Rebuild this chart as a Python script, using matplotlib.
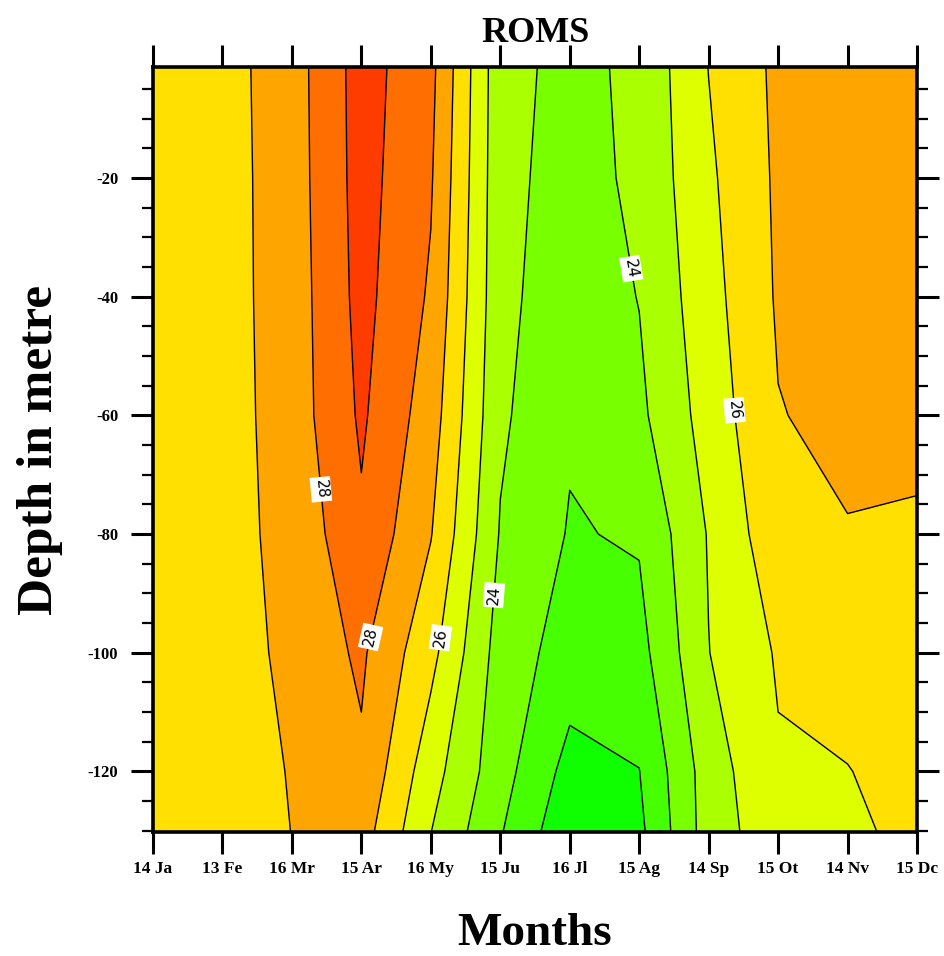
import numpy as np
import matplotlib
matplotlib.use("Agg")
import matplotlib.pyplot as plt
from matplotlib.colors import ListedColormap, BoundaryNorm
from matplotlib.ticker import MultipleLocator

plt.rcParams["font.family"] = ["Liberation Serif", "DejaVu Serif"]
plt.rcParams["font.weight"] = "bold"
plt.rcParams["axes.unicode_minus"] = False

# months (x) and depth levels (y)
months = ["14 Ja", "13 Fe", "16 Mr", "15 Ar", "16 My", "15 Ju",
          "16 Jl", "15 Ag", "14 Sp", "15 Ot", "14 Nv", "15 Dc"]
depths = [-1.3, -20, -40, -60, -80, -100, -120, -130]

# temperature (deg C), one list per depth level
t_1 = [26.50, 26.62, 27.55, 29.42, 28.28, 24.32, 23.72, 24.21, 26.02, 27.21, 27.50, 27.55]
t_20 = [26.50, 26.60, 27.52, 29.39, 28.10, 24.30, 23.60, 24.20, 25.83, 27.16, 27.45, 27.50]
t_40 = [26.50, 26.62, 27.47, 29.32, 27.87, 24.28, 23.39, 24.03, 25.64, 27.11, 27.40, 27.45]
t_60 = [26.50, 26.57, 27.47, 29.15, 27.50, 24.17, 23.12, 23.79, 25.42, 26.96, 27.24, 27.25]
t_80 = [26.50, 26.73, 27.23, 28.84, 27.05, 23.93, 22.93, 23.10, 25.07, 26.67, 26.95, 26.88]
t_100 = [26.50, 26.30, 27.35, 28.15, 26.30, 23.57, 22.55, 22.65, 24.98, 26.10, 26.45, 26.62]
t_120 = [26.45, 26.11, 27.10, 27.85, 25.40, 23.40, 21.65, 21.98, 24.50, 25.90, 25.97, 26.37]
t_130 = [26.40, 26.10, 27.02, 27.46, 25.02, 23.08, 21.24, 21.77, 24.48, 25.64, 25.80, 26.28]

temp = np.array([t_1, t_20, t_40, t_60, t_80, t_100, t_120, t_130])

levels = [22, 23, 24, 25, 26, 27, 28, 29]
labelled = [24, 26, 28]
band_colors = ["#0fff00", "#46ff00", "#78ff00", "#aaff00", "#ddff00",
               "#ffe000", "#ffa500", "#ff6e00", "#ff3c00"]
bounds = [15] + levels + [35]
cmap = ListedColormap(band_colors)
norm = BoundaryNorm(bounds, cmap.N)

fig = plt.figure(figsize=(9.45, 9.56), dpi=100)
ax = fig.add_axes([0.1619, 0.1297, 0.8085, 0.8003])

x = np.arange(len(months))
ax.contourf(x, depths, temp, levels=bounds, cmap=cmap, norm=norm)
ax.contour(x, depths, temp, levels=[v for v in levels if v not in labelled],
           colors="black", linewidths=1.0)
cs = ax.contour(x, depths, temp, levels=labelled, colors="black", linewidths=1.0)

# labels placed where the reference puts them
lab_pos = [(2.30, -72.6), (3.19, -97.5), (4.16, -97.5),
           (8.32, -59.2), (4.92, -90.3), (6.88, -35.3)]
labs = ax.clabel(cs, manual=lab_pos, inline=False, fontsize=11, fmt="%d",
                 colors="black")
for t in labs:
    t.set_fontfamily("DejaVu Sans")
    t.set_fontweight("normal")
    t.set_bbox(dict(facecolor="white", edgecolor="none", pad=2))

ax.set_xlim(0, len(months) - 1)
ax.set_ylim(-130.2, -1.3)
ax.set_xticks(x)
ax.set_xticklabels(months)
ax.set_yticks([-20, -40, -60, -80, -100, -120])
ax.yaxis.set_minor_locator(MultipleLocator(5))

ax.tick_params(axis="x", which="major", direction="out", length=16, width=2.2,
               top=True, labelsize=12.5, pad=5)
ax.tick_params(axis="y", which="major", direction="out", length=16, width=2.2,
               right=True, labelsize=12, pad=9)
ax.tick_params(axis="y", which="minor", direction="out", length=8, width=1.6,
               right=True)
for s in ax.spines.values():
    s.set_linewidth(2.6)

ax.set_title("ROMS", fontsize=26, fontweight="bold", pad=18)
ax.set_xlabel("Months", fontsize=34, fontweight="bold", labelpad=26)
ax.set_ylabel("Depth in metre", fontsize=37, fontweight="bold", labelpad=18)

fig.savefig("out.png", dpi=100)
